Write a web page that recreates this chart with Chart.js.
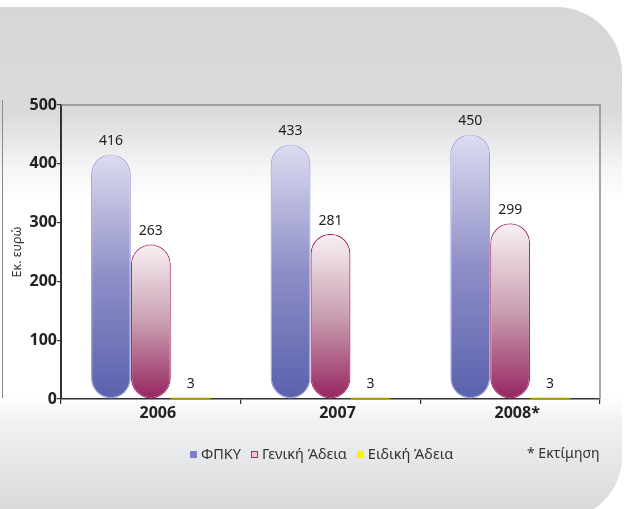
<!DOCTYPE html>
<html>
<head>
<meta charset="utf-8">
<script src="https://cdn.jsdelivr.net/npm/chart.js@4"></script>
<style>
  html, body { margin: 0; padding: 0; background: #fff; }
  body { width: 625px; height: 509px; position: relative; overflow: hidden; font-family: "Noto Sans", sans-serif; }
  #panel {
    position: absolute; left: -10px; top: 7px; width: 632px; height: 512px;
    border-radius: 0 66px 62px 0;
    background: linear-gradient(to bottom, #d5d6d8 0%, #dadbdd 21%, #f4f4f5 31%, #ffffff 38%, #ffffff 76%, #f0f1f2 81%, #d6d7d9 100%);
  }
  #edge { position: absolute; left: 0; top: 100px; width: 2px; height: 298px; border-right: 1px solid #8a8a8a; }
  #wrap { position: absolute; left: 0; top: 0; width: 625px; height: 509px; }
  #legend { position: absolute; top: 443px; left: 190px; font-size: 14.5px; color: #333; display: flex; gap: 10px; white-space: nowrap; }
  #legend span.box { display: inline-block; width: 7px; height: 7px; margin-right: 4px; vertical-align: 1px; box-sizing: border-box; }
  #note { position: absolute; top: 443px; left: 527px; font-size: 14px; color: #333; }
</style>
</head>
<body>
<div id="panel"></div>
<div id="edge"></div>
<div id="wrap"><canvas id="chart" width="625" height="509"></canvas></div>
<div id="legend"></div>
<div id="note">* Εκτίμηση</div>
<script>
const years = ["2006", "2007", "2008*"];
const fpky = [416, 433, 450];
const geniki = [263, 281, 299];
const eidiki = [3, 3, 3];
const seriesNames = ["ΦΠΚΥ", "Γενική Άδεια", "Ειδική Άδεια"];
const yTicks = [0, 100, 200, 300, 400, 500];

const palettes = [
  { stops: ["#dcdcf1", "#8e8ec7", "#5a62ad"], border: "#a3a6dc", legend: "#7b80c4", legendBorder: "#7b80c4" },
  { stops: ["#f8f1f4", "#c99fb1", "#962560"], border: "#a5306c", legend: "#e8c8d6", legendBorder: "#a5306c" },
  { stops: ["#fff200", "#fff200", "#fff200"], border: "#f2e400", legend: "#fff200", legendBorder: "#fff200" },
];

function barGradient(ctx, i) {
  const chart = ctx.chart;
  if (!chart.chartArea || ctx.raw == null) return palettes[i].stops[1];
  const y = chart.scales.y;
  const top = y.getPixelForValue(ctx.raw);
  const base = y.getPixelForValue(0);
  const g = chart.ctx.createLinearGradient(0, top, 0, base);
  g.addColorStop(0, palettes[i].stops[0]);
  g.addColorStop(0.5, palettes[i].stops[1]);
  g.addColorStop(1, palettes[i].stops[2]);
  return g;
}

// numbers above each bar
const valueLabels = {
  id: "valueLabels",
  afterDatasetsDraw(chart) {
    const c = chart.ctx;
    c.save();
    c.font = "14px 'Noto Sans'";
    c.fillStyle = "#222";
    c.textAlign = "center";
    c.textBaseline = "middle";
    chart.data.datasets.forEach((ds, i) => {
      chart.getDatasetMeta(i).data.forEach((bar, j) => {
        c.fillText(String(ds.data[j]), bar.x, bar.y - 13);
      });
    });
    c.restore();
  },
};

// grey top/right border of the plot area
const frame = {
  id: "frame",
  beforeDatasetsDraw(chart) {
    const { left, right, top, bottom } = chart.chartArea;
    const c = chart.ctx;
    c.save();
    c.strokeStyle = "#8c8c8c";
    c.lineWidth = 1.5;
    c.beginPath();
    c.moveTo(left, top);
    c.lineTo(right, top);
    c.lineTo(right, bottom);
    c.stroke();
    c.restore();
  },
};

const datasets = [fpky, geniki, eidiki].map((data, i) => ({
  label: seriesNames[i],
  data,
  backgroundColor: (ctx) => barGradient(ctx, i),
  borderColor: palettes[i].border,
  borderWidth: i === 2 ? 0 : 1.2,
  borderRadius: i === 2 ? 0 : 20,
  borderSkipped: false,
  barPercentage: 1,
  categoryPercentage: 0.667,
}));

new Chart(document.getElementById("chart"), {
  type: "bar",
  data: { labels: years, datasets },
  plugins: [frame, valueLabels],
  options: {
    responsive: false,
    animation: false,
    layout: { padding: { top: 105, right: 25, left: 0, bottom: 0 } },
    plugins: { legend: { display: false }, tooltip: { enabled: false } },
    scales: {
      x: {
        afterFit: (s) => { s.height = 110; },
        offset: true,
        grid: { display: true, drawOnChartArea: false, offset: true, tickLength: 5, color: "#333", lineWidth: 1.2 },
        border: { color: "#333", width: 1.5 },
        ticks: { color: "#222", font: { family: "Noto Sans", size: 16, weight: "bold" }, padding: 0, labelOffset: 7 },
      },
      y: {
        min: 0,
        max: 500,
        afterFit: (s) => { s.width = 61; },
        afterBuildTicks: (s) => { s.ticks = yTicks.map((v) => ({ value: v })); },
        grid: { display: true, drawOnChartArea: false, tickLength: 4, color: "#333", lineWidth: 1.2 },
        border: { color: "#333", width: 2 },
        ticks: { color: "#222", font: { family: "Noto Sans", size: 16, weight: "bold" }, padding: 0 },
        title: { display: true, text: "Εκ. ευρώ", color: "#333", font: { family: "Noto Sans", size: 12.5 }, padding: { top: 10, bottom: 0 } },
      },
    },
  },
});

const legend = document.getElementById("legend");
seriesNames.forEach((name, i) => {
  const item = document.createElement("div");
  const box = document.createElement("span");
  box.className = "box";
  box.style.background = palettes[i].legend;
  box.style.border = "1.5px solid " + palettes[i].legendBorder;
  item.appendChild(box);
  item.appendChild(document.createTextNode(name));
  legend.appendChild(item);
});
</script>
</body>
</html>
